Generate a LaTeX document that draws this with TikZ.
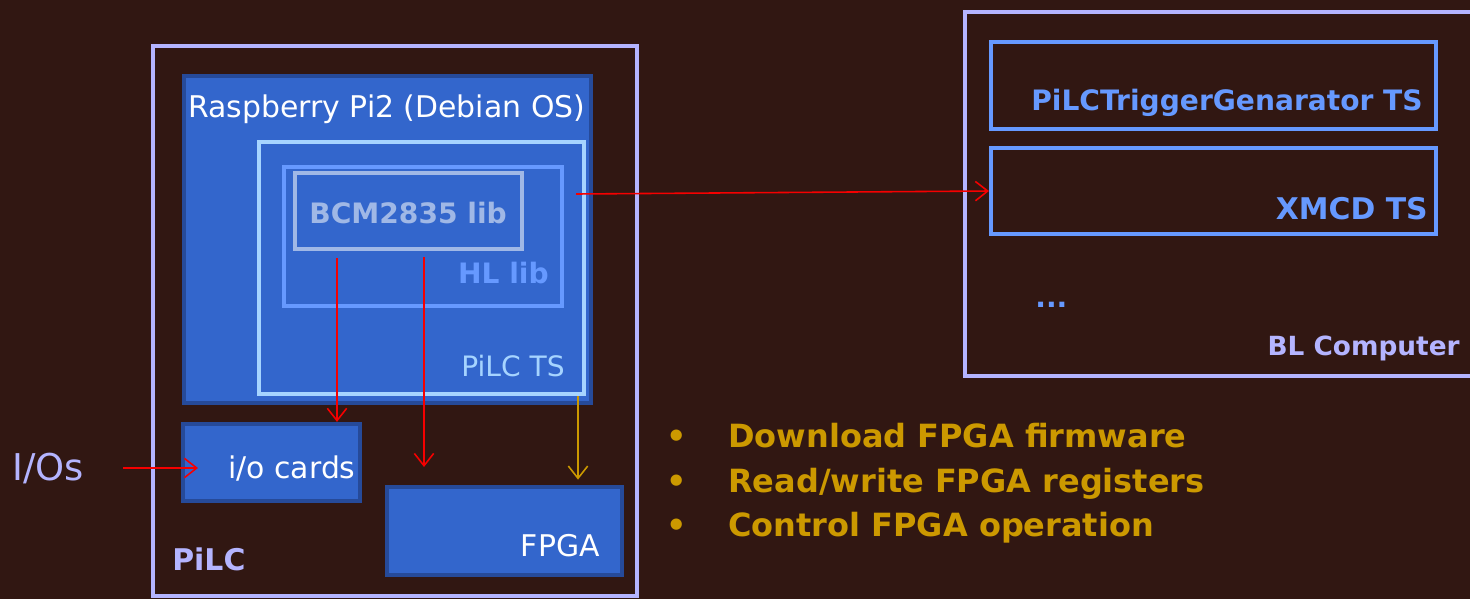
\documentclass[tikz,border=0pt]{standalone}
\usepackage{fontspec}
\setmainfont{DejaVu Sans}
\usetikzlibrary{arrows.meta,fit,calc,positioning}

\definecolor{bgbrown}{RGB}{49,23,18}
\definecolor{lavender}{RGB}{180,180,255}
\definecolor{piblue}{RGB}{51,102,204}
\definecolor{pidark}{RGB}{38,74,153}
\definecolor{tsblue}{RGB}{166,212,255}
\definecolor{hlblue}{RGB}{102,153,255}
\definecolor{bcmgrey}{RGB}{160,184,230}
\definecolor{fpgaorange}{RGB}{204,153,0}
\definecolor{sigred}{RGB}{245,0,0}

\newcommand\fsz[1]{\fontsize{#1}{#1}\selectfont}

\tikzset{
  frame/.style={draw=lavender, line width=2.3pt, inner sep=0pt},
  hwbox/.style={draw=pidark, fill=piblue, line width=2.8pt, inner sep=0pt},
  swbox/.style={draw=#1, line width=2.3pt, inner sep=0pt},
  txt/.style={inner sep=0pt, font=\fsz{#1}},
  btxt/.style={inner sep=0pt, font=\fsz{#1}\bfseries},
  sig/.style={->, draw=sigred, line width=0.9pt},
  fw/.style={->, draw=fpgaorange, line width=0.9pt},
}

\begin{document}
\begin{tikzpicture}[x=0.02cm, y=-0.02cm, >={Straight Barb[length=7pt, width=11pt]}]
  \fill[bgbrown] (0,0) rectangle (1470,599);
  \useasboundingbox (0,0) rectangle (1470,599);

  % PiLC side
  \node[frame, fit={(153,46) (637,596)}] (pilc) {};
  \node[hwbox, fit={(184,76) (591,403)}] (rpi) {};
  \node[swbox=tsblue, fit={(259,142) (584,394)}] (ts) {};
  \node[swbox=hlblue, fit={(284,167) (562,306)}] (hl) {};
  \node[swbox=bcmgrey, fit={(295,173) (522,249)}] (bcm) {};
  \node[hwbox, line width=2.4pt, fit={(183,424) (360,501)}] (io) {};
  \node[hwbox, line width=2.4pt, fit={(387,487) (622,575)}] (fpga) {};

  \node[txt=17, white, anchor=base west] (rpitxt) at (188,117) {Raspberry Pi2 (Debian OS)};
  \node[btxt=16, bcmgrey, anchor=base west] (bcmtxt) at (309,223) {BCM2835 lib};
  \node[btxt=16, hlblue, anchor=base east] (hltxt) at (549,283) {HL lib};
  \node[txt=16, tsblue, anchor=base east] (tstxt) at (565,376) {PiLC TS};
  \node[txt=17, white, anchor=base west] (iotxt) at (228,478) {i/o cards};
  \node[txt=17, white, anchor=base east] (fpgatxt) at (600,556) {FPGA};
  \node[btxt=17, lavender, anchor=base west] (pilctxt) at (172,570) {PiLC};
  \node[txt=21, lavender, anchor=base west] (ios) at (12,480) {I/Os};

  % BL computer side
  \node[frame, fit={(965,12) (1490,376)}] (bl) {};
  \node[swbox=hlblue, fit={(991,42) (1436,129)}] (trig) {};
  \node[swbox=hlblue, fit={(991,148) (1436,234)}] (xmcd) {};

  \node[btxt=16, hlblue, anchor=base east] (trigtxt) at (1423,110) {PiLCTriggerGenarator TS};
  \node[btxt=17, hlblue, anchor=base east] (xmcdtxt) at (1428,219) {XMCD TS};
  \node[btxt=16, hlblue, anchor=base west] (dots) at (1035,307) {...};
  \node[btxt=15, lavender, anchor=base east] (bltxt) at (1460,355) {BL Computer};

  % FPGA tasks
  \node[btxt=18.2, fpgaorange, anchor=base west] (task1) at (666,447) {\makebox[1.24cm][l]{\textbullet}Download FPGA firmware};
  \node[btxt=18.2, fpgaorange, anchor=base west] (task2) at (666,492) {\makebox[1.24cm][l]{\textbullet}Read/write FPGA registers};
  \node[btxt=18.2, fpgaorange, anchor=base west] (task3) at (666,536) {\makebox[1.24cm][l]{\textbullet}Control FPGA operation};

  % connections
  \coordinate (iosout) at (123,468);
  \coordinate (ioin) at (198,468);
  \coordinate (bcmio) at (337,258);
  \coordinate (bcmfpga) at (424,257);
  \coordinate (fpgain) at (424,467);
  \coordinate (tsout) at (576,194);
  \coordinate (tsfpga) at (578,396);

  \draw[sig] (iosout) -- (ioin);
  \draw[sig] (bcmio) -- (bcmio |- io.north);
  \draw[sig] (bcmfpga) -- (fpgain);
  \draw[sig] (tsout) -- (xmcd.west);
  \draw[fw, shorten >=3pt] (tsfpga) -- (tsfpga |- fpga.north);
\end{tikzpicture}
\end{document}
